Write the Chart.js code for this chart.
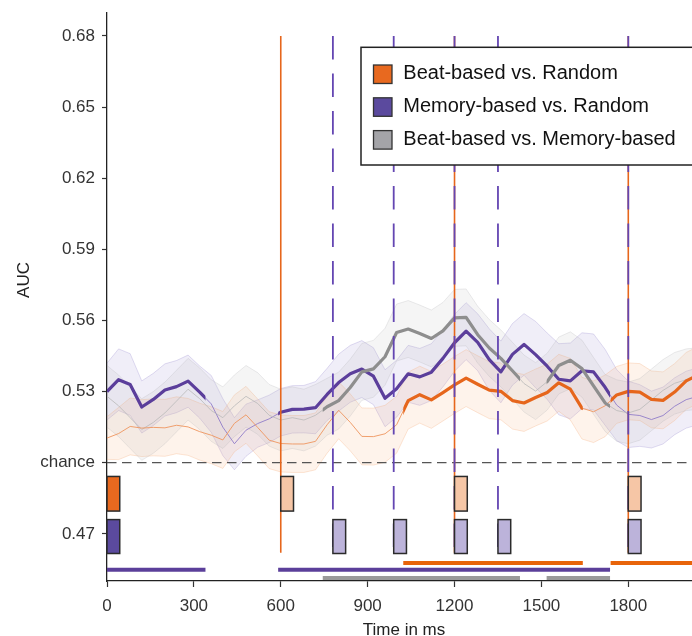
<!DOCTYPE html>
<html>
<head>
<meta charset="utf-8">
<script src="https://cdn.jsdelivr.net/npm/chart.js@4.4.1/dist/chart.umd.min.js"></script>
<style>
  html, body { margin: 0; padding: 0; background: #fff; overflow: hidden; }
  canvas { display: block; }
</style>
</head>
<body>
<canvas id="aucChart" width="692" height="636"></canvas>
<script>
// Time axis (ms)
const timeMs = [0, 40, 80, 120, 160, 200, 240, 280, 320, 360, 400, 440, 480, 520, 560, 600, 640, 680, 720, 760,
  800, 840, 880, 920, 960, 1000, 1040, 1080, 1120, 1160, 1200, 1240, 1280, 1320, 1360, 1400, 1440, 1480, 1520, 1560,
  1600, 1640, 1680, 1720, 1760, 1800, 1840, 1880, 1920, 1960, 2000, 2040];

// Beat-based vs. Random
const beatMean = [0.5104, 0.5123, 0.5153, 0.5146, 0.5149, 0.5147, 0.5158, 0.5151, 0.5131, 0.5116, 0.5096, 0.5166, 0.5202,
  0.5149, 0.5095, 0.5081, 0.5079, 0.5079, 0.5090, 0.5160, 0.5221, 0.5170, 0.5111, 0.5110, 0.5122, 0.5160, 0.5262, 0.5287,
  0.5265, 0.5296, 0.5328, 0.5357, 0.5331, 0.5306, 0.5301, 0.5262, 0.5252, 0.5275, 0.5296, 0.5337, 0.5310, 0.5230, 0.5215,
  0.5240, 0.5286, 0.5301, 0.5298, 0.5267, 0.5263, 0.5298, 0.5345, 0.5370];
const beatUpper = [0.5194, 0.5233, 0.5273, 0.5266, 0.5269, 0.5267, 0.5278, 0.5271, 0.5251, 0.5236, 0.5216, 0.5286, 0.5322,
  0.5269, 0.5215, 0.5201, 0.5199, 0.5199, 0.5210, 0.5280, 0.5341, 0.5290, 0.5231, 0.5230, 0.5242, 0.5280, 0.5382, 0.5407,
  0.5385, 0.5416, 0.5448, 0.5477, 0.5451, 0.5426, 0.5421, 0.5382, 0.5372, 0.5395, 0.5416, 0.5457, 0.5440, 0.5360, 0.5345,
  0.5370, 0.5406, 0.5421, 0.5418, 0.5387, 0.5383, 0.5418, 0.5465, 0.5490];
const beatLower = [0.5014, 0.5013, 0.5033, 0.5026, 0.5029, 0.5027, 0.5038, 0.5031, 0.5011, 0.4996, 0.4976, 0.5046, 0.5082,
  0.5029, 0.4975, 0.4961, 0.4959, 0.4959, 0.4970, 0.5040, 0.5101, 0.5050, 0.4991, 0.4990, 0.5002, 0.5040, 0.5142, 0.5167,
  0.5145, 0.5176, 0.5208, 0.5237, 0.5211, 0.5186, 0.5181, 0.5142, 0.5132, 0.5155, 0.5176, 0.5217, 0.5180, 0.5100, 0.5085,
  0.5110, 0.5166, 0.5181, 0.5178, 0.5147, 0.5143, 0.5178, 0.5225, 0.5250];

// Memory-based vs. Random
const memMean = [0.5300, 0.5350, 0.5330, 0.5235, 0.5267, 0.5307, 0.5321, 0.5344, 0.5298, 0.5248, 0.5150, 0.5080, 0.5137,
  0.5165, 0.5185, 0.5213, 0.5225, 0.5226, 0.5232, 0.5288, 0.5338, 0.5375, 0.5395, 0.5365, 0.5272, 0.5312, 0.5375, 0.5362,
  0.5382, 0.5440, 0.5506, 0.5555, 0.5508, 0.5435, 0.5383, 0.5457, 0.5499, 0.5456, 0.5407, 0.5352, 0.5345, 0.5388, 0.5383,
  0.5318, 0.5243, 0.5204, 0.5199, 0.5182, 0.5199, 0.5238, 0.5266, 0.5280];
const memUpper = [0.5420, 0.5480, 0.5460, 0.5345, 0.5377, 0.5417, 0.5431, 0.5454, 0.5408, 0.5368, 0.5270, 0.5190, 0.5247,
  0.5265, 0.5285, 0.5313, 0.5325, 0.5326, 0.5342, 0.5398, 0.5458, 0.5495, 0.5515, 0.5485, 0.5392, 0.5432, 0.5495, 0.5482,
  0.5502, 0.5560, 0.5626, 0.5675, 0.5628, 0.5565, 0.5513, 0.5587, 0.5629, 0.5596, 0.5547, 0.5502, 0.5505, 0.5548, 0.5543,
  0.5478, 0.5393, 0.5344, 0.5329, 0.5302, 0.5319, 0.5358, 0.5386, 0.5400];
const memLower = [0.5180, 0.5220, 0.5200, 0.5125, 0.5157, 0.5197, 0.5211, 0.5234, 0.5188, 0.5128, 0.5030, 0.4970, 0.5027,
  0.5065, 0.5085, 0.5113, 0.5125, 0.5126, 0.5122, 0.5178, 0.5218, 0.5255, 0.5275, 0.5245, 0.5152, 0.5192, 0.5255, 0.5242,
  0.5262, 0.5320, 0.5386, 0.5435, 0.5388, 0.5305, 0.5253, 0.5327, 0.5369, 0.5316, 0.5267, 0.5202, 0.5185, 0.5228, 0.5223,
  0.5158, 0.5093, 0.5064, 0.5069, 0.5062, 0.5079, 0.5118, 0.5146, 0.5160];

// Beat-based vs. Memory-based
const bmMean = [0.528, 0.524, 0.519, 0.514, 0.517, 0.521, 0.526, 0.531, 0.527, 0.522, 0.519, 0.524, 0.528, 0.525, 0.520,
  0.518, 0.519, 0.518, 0.520, 0.5236, 0.5262, 0.5317, 0.5383, 0.5396, 0.5447, 0.5549, 0.5564, 0.5545, 0.5524, 0.5556,
  0.5611, 0.5613, 0.5540, 0.5484, 0.5440, 0.5388, 0.5334, 0.5302, 0.5342, 0.5410, 0.5432, 0.5397, 0.5324, 0.5252, 0.5220,
  0.5210, 0.5225, 0.5265, 0.5305, 0.5335, 0.5350, 0.5355];
const bmUpper = [0.541, 0.537, 0.532, 0.527, 0.530, 0.534, 0.539, 0.544, 0.540, 0.535, 0.532, 0.537, 0.541, 0.538, 0.533,
  0.531, 0.532, 0.531, 0.533, 0.5356, 0.5382, 0.5437, 0.5503, 0.5516, 0.5567, 0.5669, 0.5684, 0.5665, 0.5644, 0.5676,
  0.5731, 0.5733, 0.5660, 0.5604, 0.5560, 0.5508, 0.5454, 0.5422, 0.5462, 0.5530, 0.5552, 0.5517, 0.5444, 0.5372, 0.5350,
  0.5340, 0.5355, 0.5395, 0.5435, 0.5465, 0.5480, 0.5485];
const bmLower = [0.515, 0.511, 0.506, 0.501, 0.504, 0.508, 0.513, 0.518, 0.514, 0.509, 0.506, 0.511, 0.515, 0.512, 0.507,
  0.505, 0.506, 0.505, 0.507, 0.5116, 0.5142, 0.5197, 0.5263, 0.5276, 0.5327, 0.5429, 0.5444, 0.5425, 0.5404, 0.5436,
  0.5491, 0.5493, 0.5420, 0.5364, 0.5320, 0.5268, 0.5214, 0.5182, 0.5222, 0.5290, 0.5312, 0.5277, 0.5204, 0.5132, 0.5090,
  0.5080, 0.5095, 0.5135, 0.5175, 0.5205, 0.5220, 0.5225];

// significant clusters (ms)
const beatSig = [[1023, 1643], [1739, 2040]];
const memSig = [[0, 340], [591, 1737]];
const bmSig = [[745, 1426], [1518, 1737]];

// stimulus onsets (ms)
const beatOnsets = [0, 600, 1200, 1800];
const memOnsets = [0, 780, 990, 1200, 1350, 1800];
const toneDur = 44;

// axis ticks
const xTicks = [0, 300, 600, 900, 1200, 1500, 1800];
const yTicks = [0.47, 0.50, 0.53, 0.56, 0.59, 0.62, 0.65, 0.68];

const ORANGE = '#e6661c';
const PURPLE = '#5b3e9b';
const GRAY = '#8e8e8e';
const FONT = '"Liberation Sans", Arial, Helvetica, sans-serif';

function pts(arr) {
  return timeMs.map((t, i) => ({ x: t, y: arr[i] }));
}

function band(upper, lower, fillCol, edgeCol) {
  return [
    { data: pts(upper), fill: '+1', backgroundColor: fillCol, borderColor: edgeCol, borderWidth: 0.8, order: 3 },
    { data: pts(lower), fill: false, borderColor: edgeCol, borderWidth: 0.8, order: 3 }
  ];
}

const datasets = [
  ...band(bmUpper, bmLower, 'rgba(175,175,180,0.13)', 'rgba(170,170,175,0.30)'),
  ...band(beatUpper, beatLower, 'rgba(248,170,115,0.14)', 'rgba(245,165,110,0.35)'),
  ...band(memUpper, memLower, 'rgba(120,100,190,0.11)', 'rgba(120,100,190,0.28)'),
  // thin full lines
  { data: pts(beatMean), borderColor: 'rgba(238,150,95,0.9)', borderWidth: 1, order: 2 },
  { data: pts(bmMean), borderColor: 'rgba(185,185,185,0.8)', borderWidth: 1, order: 2 },
  { data: pts(memMean), borderColor: 'rgba(140,120,200,0.85)', borderWidth: 1, order: 2 },
  // thick lines in significant windows
  { data: pts(beatMean), borderColor: ORANGE, borderWidth: 3.2, order: 1, sigRanges: beatSig },
  { data: pts(bmMean), borderColor: GRAY, borderWidth: 3.2, order: 1, sigRanges: bmSig },
  { data: pts(memMean), borderColor: PURPLE, borderWidth: 3.2, order: 1, sigRanges: memSig }
];

// clip the thick datasets to their significant windows
const sigClip = {
  id: 'sigClip',
  beforeDatasetDraw(chart, args) {
    const ds = chart.data.datasets[args.index];
    if (!ds.sigRanges) return;
    const { ctx, chartArea, scales } = chart;
    ctx.save();
    ctx.beginPath();
    ds.sigRanges.forEach(([a, b]) => {
      const x0 = scales.x.getPixelForValue(a);
      const x1 = scales.x.getPixelForValue(b);
      ctx.rect(x0, chartArea.top, x1 - x0, chartArea.bottom - chartArea.top);
    });
    ctx.clip();
  },
  afterDatasetDraw(chart, args) {
    if (chart.data.datasets[args.index].sigRanges) chart.ctx.restore();
  }
};

// chance line, onset lines, tone boxes, cluster bars, legend, axis titles
const extras = {
  id: 'extras',
  afterDatasetsDraw(chart) {
    const { ctx, chartArea, scales } = chart;
    const X = v => scales.x.getPixelForValue(v);
    const Y = v => scales.y.getPixelForValue(v);
    ctx.save();

    // chance
    ctx.strokeStyle = '#555';
    ctx.lineWidth = 1.3;
    ctx.setLineDash([9.5, 5.5]);
    ctx.beginPath();
    ctx.moveTo(chartArea.left, Y(0.5));
    ctx.lineTo(chartArea.right, Y(0.5));
    ctx.stroke();

    // beat onsets (solid orange)
    ctx.setLineDash([]);
    ctx.strokeStyle = ORANGE;
    ctx.lineWidth = 1.6;
    beatOnsets.slice(1).forEach(t => {
      ctx.beginPath();
      ctx.moveTo(X(t), Y(0.68));
      ctx.lineTo(X(t), Y(0.462));
      ctx.stroke();
    });

    // memory onsets (dashed purple)
    ctx.strokeStyle = '#6446b2';
    ctx.lineWidth = 1.8;
    ctx.setLineDash([23.5, 14]);
    memOnsets.slice(1).forEach(t => {
      ctx.beginPath();
      ctx.moveTo(X(t), Y(0.68));
      ctx.lineTo(X(t), Y(0.462));
      ctx.stroke();
    });
    ctx.setLineDash([]);

    // tone boxes
    const box = (t, lo, hi, fill) => {
      const x0 = X(t), x1 = X(t + toneDur);
      const y0 = Y(hi), y1 = Y(lo);
      ctx.fillStyle = fill;
      ctx.fillRect(x0, y0, x1 - x0, y1 - y0);
      ctx.strokeStyle = '#2b2b2b';
      ctx.lineWidth = 1.5;
      ctx.strokeRect(x0, y0, x1 - x0, y1 - y0);
    };
    beatOnsets.forEach((t, i) => box(t, 0.4796, 0.4942, i === 0 ? '#e8691f' : '#f6c6a6'));
    memOnsets.forEach((t, i) => box(t, 0.4617, 0.4760, i === 0 ? '#5b4a9e' : '#bcb3da'));

    // cluster bars
    ctx.lineCap = 'butt';
    ctx.lineWidth = 4;
    const bars = (ranges, yv, col) => {
      ctx.strokeStyle = col;
      ranges.forEach(([a, b]) => {
        ctx.beginPath();
        ctx.moveTo(X(a), Y(yv));
        ctx.lineTo(Math.min(X(b), chartArea.right), Y(yv));
        ctx.stroke();
      });
    };
    bars(beatSig, 0.4577, '#e8640a');
    bars(memSig, 0.4548, '#5b3f9a');
    bars(bmSig, 0.4514, '#9a9a9a');

    // legend
    const lx = 361, ly = 47.3, lw = 345, lh = 117.7;
    ctx.fillStyle = '#fff';
    ctx.fillRect(lx, ly, lw, lh);
    ctx.strokeStyle = '#222';
    ctx.lineWidth = 1.5;
    ctx.strokeRect(lx, ly, lw, lh);
    const items = [
      ['Beat-based vs. Random', '#e8691f'],
      ['Memory-based vs. Random', '#5b4a9e'],
      ['Beat-based vs. Memory-based', '#a4a4a8']
    ];
    ctx.font = '20px ' + FONT;
    ctx.textBaseline = 'alphabetic';
    ctx.textAlign = 'left';
    items.forEach(([label, col], i) => {
      const cy = 74.2 + i * 32.8;
      ctx.fillStyle = col;
      ctx.fillRect(373.5, cy - 9.2, 18.5, 18.5);
      ctx.strokeStyle = '#333';
      ctx.lineWidth = 1.3;
      ctx.strokeRect(373.5, cy - 9.2, 18.5, 18.5);
      ctx.fillStyle = '#111';
      ctx.fillText(label, 403.3, 79.3 + i * 32.8);
    });

    // axis titles
    ctx.fillStyle = '#222';
    ctx.font = '17px ' + FONT;
    ctx.textAlign = 'center';
    ctx.fillText('Time in ms', 404, 635);
    ctx.translate(24, 280);
    ctx.rotate(-Math.PI / 2);
    ctx.textBaseline = 'middle';
    ctx.fillText('AUC', 0, 0);
    ctx.restore();
  }
};

new Chart(document.getElementById('aucChart'), {
  type: 'line',
  data: { datasets },
  plugins: [sigClip, extras],
  options: {
    responsive: false,
    animation: false,
    layout: { padding: { top: 13, left: 0, right: 0, bottom: 0 } },
    elements: {
      point: { radius: 0, hoverRadius: 0 },
      line: { tension: 0, borderCapStyle: 'butt', borderJoinStyle: 'round' }
    },
    plugins: { legend: { display: false }, tooltip: { enabled: false } },
    scales: {
      x: {
        type: 'linear',
        min: 0,
        max: 2020,
        afterBuildTicks: s => { s.ticks = xTicks.map(v => ({ value: v })); },
        afterFit: s => { s.height = 55; s.paddingRight = 0; },
        grid: { drawOnChartArea: false, tickLength: 6, tickColor: '#333', tickWidth: 1.2 },
        border: { color: '#222', width: 1.3 },
        ticks: {
          color: '#333',
          padding: 9,
          maxRotation: 0,
          font: { size: 17, family: FONT },
          callback: v => String(v)
        }
      },
      y: {
        min: 0.4501,
        max: 0.6897,
        afterBuildTicks: s => { s.ticks = yTicks.map(v => ({ value: v })); },
        afterFit: s => { s.width = 107; s.paddingTop = 0; s.paddingBottom = 0; },
        grid: { drawOnChartArea: false, tickLength: 5, tickColor: '#333', tickWidth: 1.2 },
        border: { color: '#222', width: 1.3 },
        ticks: {
          color: '#333',
          padding: 7,
          font: { size: 17, family: FONT },
          callback: v => Math.abs(v - 0.5) < 1e-9 ? 'chance' : v.toFixed(2)
        }
      }
    }
  }
});
</script>
</body>
</html>
